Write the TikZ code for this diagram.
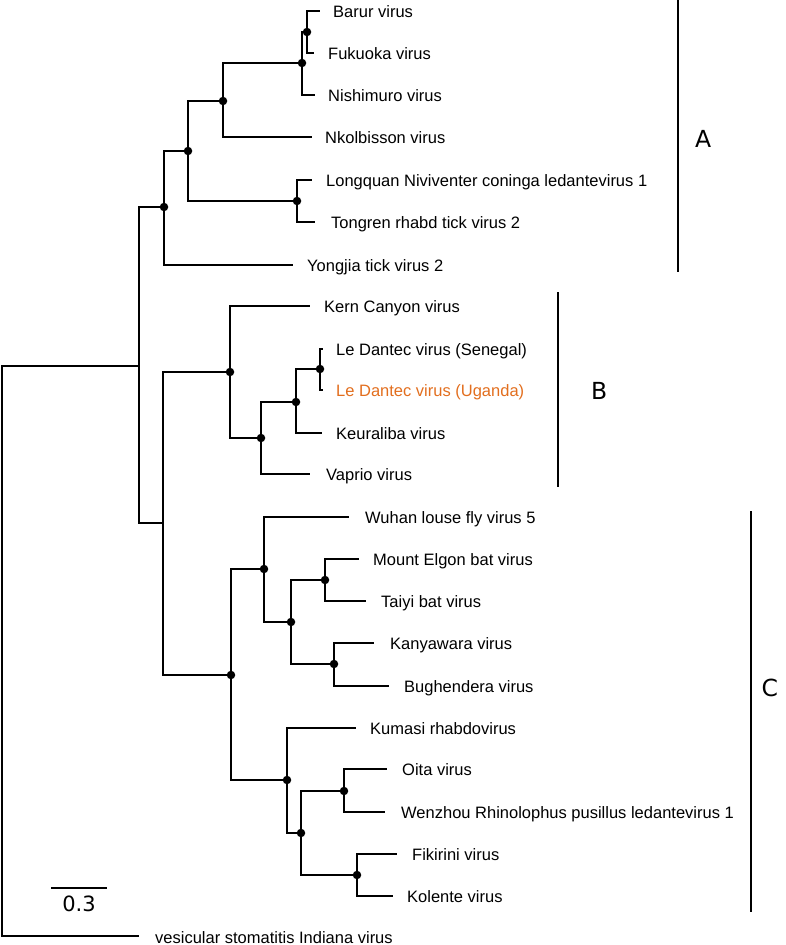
\documentclass[tikz,border=0pt]{standalone}
\usepackage{fontspec}
\setmainfont{Liberation Sans}
\newfontfamily\dejavu{DejaVu Sans}
\definecolor{uganda}{RGB}{226,110,30}
\begin{document}
\begin{tikzpicture}[x=1pt,y=-1pt,
  branch/.style={line width=1.4pt, line join=miter},
  leaf/.style={anchor=base west, inner sep=0pt, font=\fontsize{16.5}{19}\selectfont},
  dotnode/.style={circle, fill=black, inner sep=0pt, minimum size=8.5pt},
  cladebar/.style={line width=2pt},
  cladelabel/.style={anchor=base west, inner sep=0pt, font=\dejavu\fontsize{23.5}{28}\selectfont},
  scalelabel/.style={anchor=base, inner sep=0pt, font=\dejavu\fontsize{21}{25}\selectfont}]
\useasboundingbox (0,0) rectangle (786,945);

% internal nodes
\coordinate (root) at (2,650);
\coordinate (nABC) at (139,366);
\coordinate (nA) at (164,207);
\coordinate (n5) at (188,151);
\coordinate (n3) at (223,101);
\coordinate (n2) at (302,63);
\coordinate (n1) at (307,32);
\coordinate (n4) at (297,201);
\coordinate (nBC) at (163,523);
\coordinate (nB) at (230,372);
\coordinate (nB3) at (261,438);
\coordinate (nB2) at (296,402);
\coordinate (nB1) at (320,369);
\coordinate (nC) at (231,675);
\coordinate (nC4) at (264,569);
\coordinate (nC3) at (291,622);
\coordinate (nC1) at (325,580);
\coordinate (nC2) at (334,664);
\coordinate (nC8) at (287,780);
\coordinate (nC7) at (301,833);
\coordinate (nC5) at (344,791);
\coordinate (nC6) at (357,875);

% tip ends
\coordinate (tBarur) at (320,11);
\coordinate (tFuk) at (314,53);
\coordinate (tNish) at (315,95);
\coordinate (tNkol) at (312,137);
\coordinate (tLong) at (312,180);
\coordinate (tTong) at (315,222);
\coordinate (tYong) at (293,265);
\coordinate (tKern) at (310,306);
\coordinate (tSen) at (323,349);
\coordinate (tUg) at (323,390);
\coordinate (tKeur) at (322,433);
\coordinate (tVap) at (310,474);
\coordinate (tWuhan) at (349,517);
\coordinate (tME) at (359,559);
\coordinate (tTaiyi) at (366,601);
\coordinate (tKan) at (374,643);
\coordinate (tBug) at (389,686);
\coordinate (tKum) at (356,728);
\coordinate (tOita) at (387,769);
\coordinate (tWen) at (385,812);
\coordinate (tFik) at (397,854);
\coordinate (tKol) at (393,896);
\coordinate (tVes) at (139,936);

% branches
\draw[branch] (n1) |- (tBarur);
\draw[branch] (n1) |- (tFuk);
\draw[branch] (n2) |- (n1);
\draw[branch] (n2) |- (tNish);
\draw[branch] (n3) |- (n2);
\draw[branch] (n3) |- (tNkol);
\draw[branch] (n4) |- (tLong);
\draw[branch] (n4) |- (tTong);
\draw[branch] (n5) |- (n3);
\draw[branch] (n5) |- (n4);
\draw[branch] (nA) |- (n5);
\draw[branch] (nA) |- (tYong);
\draw[branch] (nABC) |- (nA);
\draw[branch] (nABC) |- (nBC);
\draw[branch] (nBC) |- (nB);
\draw[branch] (nBC) |- (nC);
\draw[branch] (nB) |- (tKern);
\draw[branch] (nB) |- (nB3);
\draw[branch] (nB3) |- (nB2);
\draw[branch] (nB3) |- (tVap);
\draw[branch] (nB2) |- (nB1);
\draw[branch] (nB2) |- (tKeur);
\draw[branch] (nB1) |- (tSen);
\draw[branch] (nB1) |- (tUg);
\draw[branch] (nC) |- (nC4);
\draw[branch] (nC) |- (nC8);
\draw[branch] (nC4) |- (tWuhan);
\draw[branch] (nC4) |- (nC3);
\draw[branch] (nC3) |- (nC1);
\draw[branch] (nC3) |- (nC2);
\draw[branch] (nC1) |- (tME);
\draw[branch] (nC1) |- (tTaiyi);
\draw[branch] (nC2) |- (tKan);
\draw[branch] (nC2) |- (tBug);
\draw[branch] (nC8) |- (tKum);
\draw[branch] (nC8) |- (nC7);
\draw[branch] (nC7) |- (nC5);
\draw[branch] (nC7) |- (nC6);
\draw[branch] (nC5) |- (tOita);
\draw[branch] (nC5) |- (tWen);
\draw[branch] (nC6) |- (tFik);
\draw[branch] (nC6) |- (tKol);
\draw[branch] (root) |- (nABC);
\draw[branch] (root) |- (tVes);

% support dots
\foreach \n in {n1,n2,n3,n4,n5,nA,nB,nB1,nB2,nB3,nC,nC1,nC2,nC3,nC4,nC5,nC6,nC7,nC8}
  \node[dotnode] (d\n) at (\n) {};

% leaf labels
\node[leaf] (lBarur) at (333,17) {Barur virus};
\node[leaf] (lFuk) at (328,59) {Fukuoka virus};
\node[leaf] (lNish) at (328,101) {Nishimuro virus};
\node[leaf] (lNkol) at (325,143) {Nkolbisson virus};
\node[leaf] (lLong) at (326,186) {Longquan Niviventer coninga ledantevirus 1};
\node[leaf] (lTong) at (331,228) {Tongren rhabd tick virus 2};
\node[leaf] (lYong) at (307,271) {Yongjia tick virus 2};
\node[leaf] (lKern) at (324,312) {Kern Canyon virus};
\node[leaf] (lSen) at (336,355) {Le Dantec virus (Senegal)};
\node[leaf, text=uganda] (lUg) at (336,396) {Le Dantec virus (Uganda)};
\node[leaf] (lKeur) at (336,439) {Keuraliba virus};
\node[leaf] (lVap) at (326,480) {Vaprio virus};
\node[leaf] (lWuhan) at (365,523) {Wuhan louse fly virus 5};
\node[leaf] (lME) at (373,565) {Mount Elgon bat virus};
\node[leaf] (lTaiyi) at (381,607) {Taiyi bat virus};
\node[leaf] (lKan) at (390,649) {Kanyawara virus};
\node[leaf] (lBug) at (404,692) {Bughendera virus};
\node[leaf] (lKum) at (370,734) {Kumasi rhabdovirus};
\node[leaf] (lOita) at (402,775) {Oita virus};
\node[leaf] (lWen) at (401,818) {Wenzhou Rhinolophus pusillus ledantevirus 1};
\node[leaf] (lFik) at (412,860) {Fikirini virus};
\node[leaf] (lKol) at (407,902) {Kolente virus};
\node[leaf] (lVes) at (155,943) {vesicular stomatitis Indiana virus};

% clade bars
\coordinate (aTop) at (678,0);
\coordinate (aBot) at (678,272);
\draw[cladebar] (aTop) -- (aBot);
\node[cladelabel] (labA) at (695,147) {A};
\coordinate (bTop) at (558,292);
\coordinate (bBot) at (558,487);
\draw[cladebar] (bTop) -- (bBot);
\node[cladelabel] (labB) at (591,399) {B};
\coordinate (cTop) at (751,511);
\coordinate (cBot) at (751,912);
\draw[cladebar] (cTop) -- (cBot);
\node[cladelabel] (labC) at (761.5,696) {C};

% scale bar
\coordinate (sL) at (51,888);
\coordinate (sR) at (107,888);
\draw[branch] (sL) -- (sR);
\node[scalelabel] (lScale) at (79,911) {0.3};
\end{tikzpicture}
\end{document}
